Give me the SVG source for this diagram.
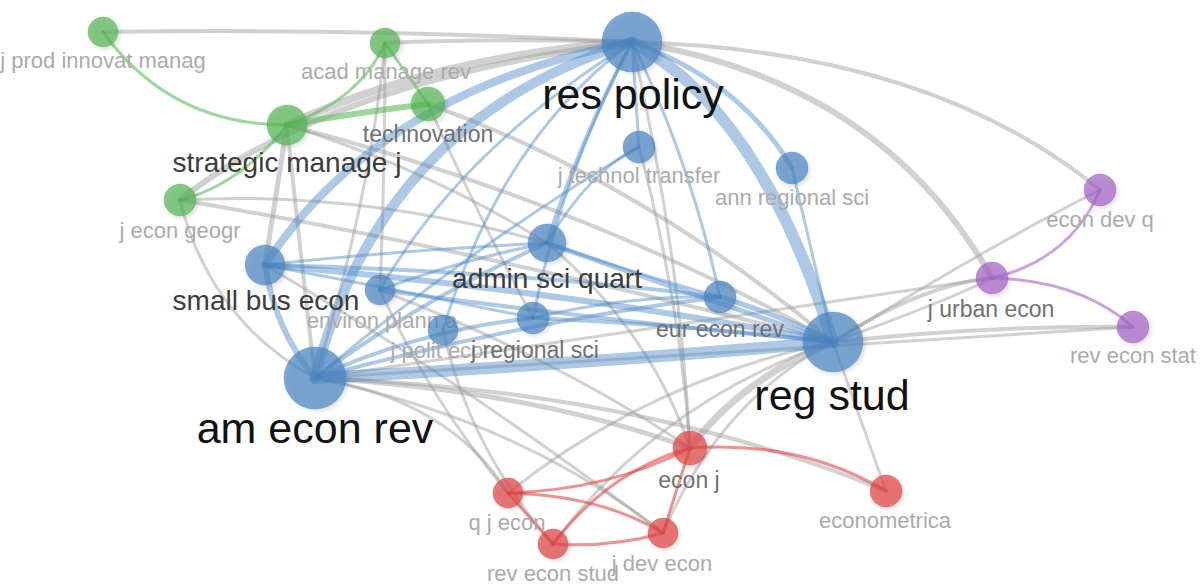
<svg xmlns="http://www.w3.org/2000/svg" width="1200" height="584" viewBox="0 0 1200 584">
<defs>
<style>
.e{fill:none;stroke-linecap:round}
.g{stroke:#9a9a9a;stroke-opacity:0.45}
.b{stroke:#4a88c8;stroke-opacity:0.45}
.gr{stroke:#5dbb5d;stroke-opacity:0.6}
.r{stroke:#e04a4a;stroke-opacity:0.6}
.p{stroke:#a667c6;stroke-opacity:0.6}
.nb{fill:#4a85c2;fill-opacity:0.7;stroke:#3f7ab8;stroke-opacity:0.35}
.ng{fill:#56b356;fill-opacity:0.7;stroke:#4fae4f;stroke-opacity:0.35}
.nr{fill:#e04545;fill-opacity:0.7;stroke:#dd3a3a;stroke-opacity:0.35}
.np{fill:#a263c4;fill-opacity:0.7;stroke:#9c5bc0;stroke-opacity:0.35}
text{font-family:"Liberation Sans",Arial,sans-serif;text-anchor:middle}
.s{font-size:22px;fill:#ababab}
.m{font-size:23px;fill:#707070}
.l{font-size:28px;fill:#3c3c3c}
.x{font-size:43px;fill:#111}
</style>
<filter id="sh" x="-50%" y="-50%" width="200%" height="200%">
<feDropShadow dx="2" dy="2" stdDeviation="2" flood-color="#000" flood-opacity="0.18"/>
</filter>
</defs>
<rect width="1200" height="584" fill="#fff"/>
<g id="connectors">
<path class="e g" stroke-width="4" d="M103,32 Q370,28 632,42"/>
<path class="e g" stroke-width="4" d="M385,43 Q500,38 632,42"/>
<path class="e g" stroke-width="8" d="M287,125 Q440,55 632,42"/>
<path class="e g" stroke-width="6" d="M180,200 Q330,80 632,42"/>
<path class="e g" stroke-width="5" d="M287,125 L265,265"/>
<path class="e g" stroke-width="4" d="M287,125 Q300,250 315,378"/>
<path class="e g" stroke-width="4" d="M287,125 Q580,200 833,342"/>
<path class="e g" stroke-width="3" d="M287,125 Q430,170 547,243"/>
<path class="e g" stroke-width="3" d="M385,43 Q370,200 315,378"/>
<path class="e g" stroke-width="3" d="M385,43 Q385,170 380,290"/>
<path class="e g" stroke-width="4" d="M428,104 Q640,180 833,342"/>
<path class="e g" stroke-width="3" d="M428,104 Q480,220 533,318"/>
<path class="e g" stroke-width="4" d="M180,200 Q480,250 833,342"/>
<path class="e g" stroke-width="3" d="M180,200 Q210,320 315,378"/>
<path class="e g" stroke-width="3" d="M180,200 Q360,190 547,243"/>
<path class="e g" stroke-width="6" d="M632,42 Q880,80 992,278"/>
<path class="e g" stroke-width="4" d="M632,42 Q930,50 1100,190"/>
<path class="e g" stroke-width="3" d="M632,42 Q680,250 690,448"/>
<path class="e g" stroke-width="4" d="M833,342 Q920,285 992,278"/>
<path class="e g" stroke-width="3" d="M833,342 Q950,300 992,278"/>
<path class="e g" stroke-width="4" d="M833,342 Q990,325 1133,327"/>
<path class="e g" stroke-width="3" d="M833,342 Q1000,240 1100,190"/>
<path class="e g" stroke-width="3" d="M315,378 Q700,320 992,278"/>
<path class="e g" stroke-width="3" d="M315,378 Q760,350 1133,327"/>
<path class="e g" stroke-width="5" d="M315,378 Q530,390 690,448"/>
<path class="e g" stroke-width="4" d="M315,378 Q640,390 886,491"/>
<path class="e g" stroke-width="3" d="M315,378 Q520,420 663,533"/>
<path class="e g" stroke-width="3" d="M315,378 Q450,400 508,493"/>
<path class="e g" stroke-width="7" d="M690,448 Q740,380 833,342"/>
<path class="e g" stroke-width="3" d="M886,491 L833,342"/>
<path class="e g" stroke-width="3" d="M508,493 Q650,380 833,342"/>
<path class="e g" stroke-width="3" d="M553,544 Q660,400 833,342"/>
<path class="e g" stroke-width="3" d="M663,533 Q720,400 833,342"/>
<path class="e g" stroke-width="3" d="M380,290 Q430,400 508,493"/>
<path class="e g" stroke-width="3" d="M265,265 Q460,380 663,533"/>
<path class="e g" stroke-width="3" d="M547,243 Q650,330 690,448"/>
<path class="e g" stroke-width="3" d="M380,290 Q560,360 690,448"/>
<path class="e g" stroke-width="3" d="M443,330 Q470,450 553,544"/>
<path class="e g" stroke-width="3" d="M639,147 Q680,300 690,448"/>
<path class="e b" stroke-width="10" d="M632,42 Q380,120 315,378"/>
<path class="e b" stroke-width="8" d="M632,42 Q380,90 265,265"/>
<path class="e b" stroke-width="12" d="M632,42 Q760,110 833,342"/>
<path class="e b" stroke-width="5" d="M632,42 Q740,80 792,168"/>
<path class="e b" stroke-width="3" d="M632,42 L639,147"/>
<path class="e b" stroke-width="4" d="M632,42 Q580,140 547,243"/>
<path class="e b" stroke-width="3" d="M632,42 Q690,160 720,297"/>
<path class="e b" stroke-width="3" d="M632,42 Q560,180 533,318"/>
<path class="e b" stroke-width="3" d="M632,42 Q460,150 380,290"/>
<path class="e b" stroke-width="3" d="M632,42 Q500,140 443,330"/>
<path class="e b" stroke-width="12" d="M315,378 Q570,365 833,342"/>
<path class="e b" stroke-width="6" d="M265,265 Q560,290 833,342"/>
<path class="e b" stroke-width="6" d="M315,378 Q275,330 265,265"/>
<path class="e b" stroke-width="4" d="M315,378 Q420,300 547,243"/>
<path class="e b" stroke-width="4" d="M315,378 Q420,330 533,318"/>
<path class="e b" stroke-width="4" d="M315,378 Q530,320 720,297"/>
<path class="e b" stroke-width="3" d="M265,265 Q400,250 547,243"/>
<path class="e b" stroke-width="4" d="M265,265 Q500,270 720,297"/>
<path class="e b" stroke-width="3" d="M265,265 Q400,290 533,318"/>
<path class="e b" stroke-width="5" d="M547,243 Q680,290 833,342"/>
<path class="e b" stroke-width="3" d="M547,243 Q590,170 639,147"/>
<path class="e b" stroke-width="3" d="M792,168 L833,342"/>
<path class="e b" stroke-width="4" d="M533,318 Q690,325 833,342"/>
<path class="e b" stroke-width="5" d="M720,297 Q780,315 833,342"/>
<path class="e b" stroke-width="4" d="M380,290 Q600,320 833,342"/>
<path class="e b" stroke-width="3" d="M533,318 Q630,295 720,297"/>
<path class="e b" stroke-width="3" d="M547,243 Q640,275 720,297"/>
<path class="e b" stroke-width="3" d="M380,290 Q460,260 547,243"/>
<path class="e b" stroke-width="3" d="M315,378 Q480,240 639,147"/>
<path class="e gr" stroke-width="3" d="M287,125 Q170,125 103,32"/>
<path class="e gr" stroke-width="3" d="M287,125 Q360,100 385,43"/>
<path class="e gr" stroke-width="6" d="M287,125 Q360,112 428,104"/>
<path class="e gr" stroke-width="3" d="M287,125 Q240,185 180,200"/>
<path class="e gr" stroke-width="3" d="M385,43 L428,104"/>
<path class="e r" stroke-width="3" d="M690,448 Q800,440 886,491"/>
<path class="e r" stroke-width="3" d="M508,493 Q610,490 690,448"/>
<path class="e r" stroke-width="3" d="M508,493 Q600,495 663,533"/>
<path class="e r" stroke-width="3" d="M508,493 L553,544"/>
<path class="e r" stroke-width="3" d="M553,544 Q610,470 690,448"/>
<path class="e r" stroke-width="3" d="M553,544 Q610,548 663,533"/>
<path class="e r" stroke-width="3" d="M663,533 L690,448"/>
<path class="e p" stroke-width="3" d="M992,278 Q1070,260 1100,190"/>
<path class="e p" stroke-width="3" d="M992,278 Q1080,280 1133,327"/>
</g>
<g id="n-j-prod-innovat-manag"><circle class="ng" filter="url(#sh)" cx="103" cy="32" r="15"/><text class="s" x="103" y="68">j prod innovat manag</text></g>
<g id="n-acad-manage-rev"><circle class="ng" filter="url(#sh)" cx="385" cy="43" r="15"/><text class="s" x="386" y="79">acad manage rev</text></g>
<g id="n-technovation"><circle class="ng" filter="url(#sh)" cx="428" cy="104" r="17"/><text class="m" x="428" y="142">technovation</text></g>
<g id="n-strategic-manage-j"><circle class="ng" filter="url(#sh)" cx="287" cy="125" r="20"/><text class="l" x="287" y="172">strategic manage j</text></g>
<g id="n-j-econ-geogr"><circle class="ng" filter="url(#sh)" cx="180" cy="200" r="16"/><text class="s" x="180" y="238">j econ geogr</text></g>
<g id="n-res-policy"><circle class="nb" filter="url(#sh)" cx="632" cy="42" r="30"/><text class="x" x="633" y="109">res policy</text></g>
<g id="n-j-technol-transfer"><circle class="nb" filter="url(#sh)" cx="639" cy="147" r="16"/><text class="s" x="639" y="183">j technol transfer</text></g>
<g id="n-ann-regional-sci"><circle class="nb" filter="url(#sh)" cx="792" cy="168" r="16"/><text class="s" x="792" y="205">ann regional sci</text></g>
<g id="n-admin-sci-quart"><circle class="nb" filter="url(#sh)" cx="547" cy="243" r="19"/><text class="l" x="547" y="288">admin sci quart</text></g>
<g id="n-small-bus-econ"><circle class="nb" filter="url(#sh)" cx="265" cy="265" r="20"/><text class="l" x="266" y="310">small bus econ</text></g>
<g id="n-environ-plann-a"><circle class="nb" filter="url(#sh)" cx="380" cy="290" r="15"/><text class="s" x="382" y="328">environ plann a</text></g>
<g id="n-j-polit-econ"><circle class="nb" filter="url(#sh)" cx="443" cy="330" r="15"/><text class="s" x="443" y="358">j polit econ</text></g>
<g id="n-j-regional-sci"><circle class="nb" filter="url(#sh)" cx="533" cy="318" r="16"/><text class="m" x="535" y="358">j regional sci</text></g>
<g id="n-eur-econ-rev"><circle class="nb" filter="url(#sh)" cx="720" cy="297" r="16"/><text class="m" x="720" y="337">eur econ rev</text></g>
<g id="n-am-econ-rev"><circle class="nb" filter="url(#sh)" cx="315" cy="378" r="31"/><text class="x" x="315" y="443">am econ rev</text></g>
<g id="n-reg-stud"><circle class="nb" filter="url(#sh)" cx="833" cy="342" r="30"/><text class="x" x="832" y="410">reg stud</text></g>
<g id="n-econ-dev-q"><circle class="np" filter="url(#sh)" cx="1100" cy="190" r="16"/><text class="s" x="1100" y="227">econ dev q</text></g>
<g id="n-j-urban-econ"><circle class="np" filter="url(#sh)" cx="992" cy="278" r="16"/><text class="m" x="991" y="317">j urban econ</text></g>
<g id="n-rev-econ-stat"><circle class="np" filter="url(#sh)" cx="1133" cy="327" r="16"/><text class="s" x="1133" y="363">rev econ stat</text></g>
<g id="n-econ-j"><circle class="nr" filter="url(#sh)" cx="690" cy="448" r="17"/><text class="m" x="689" y="488">econ j</text></g>
<g id="n-q-j-econ"><circle class="nr" filter="url(#sh)" cx="508" cy="493" r="15"/><text class="s" x="507" y="530">q j econ</text></g>
<g id="n-j-dev-econ"><circle class="nr" filter="url(#sh)" cx="663" cy="533" r="15"/><text class="s" x="662" y="571">j dev econ</text></g>
<g id="n-rev-econ-stud"><circle class="nr" filter="url(#sh)" cx="553" cy="544" r="15"/><text class="s" x="553" y="581">rev econ stud</text></g>
<g id="n-econometrica"><circle class="nr" filter="url(#sh)" cx="886" cy="491" r="16"/><text class="s" x="885" y="528">econometrica</text></g>
</svg>
